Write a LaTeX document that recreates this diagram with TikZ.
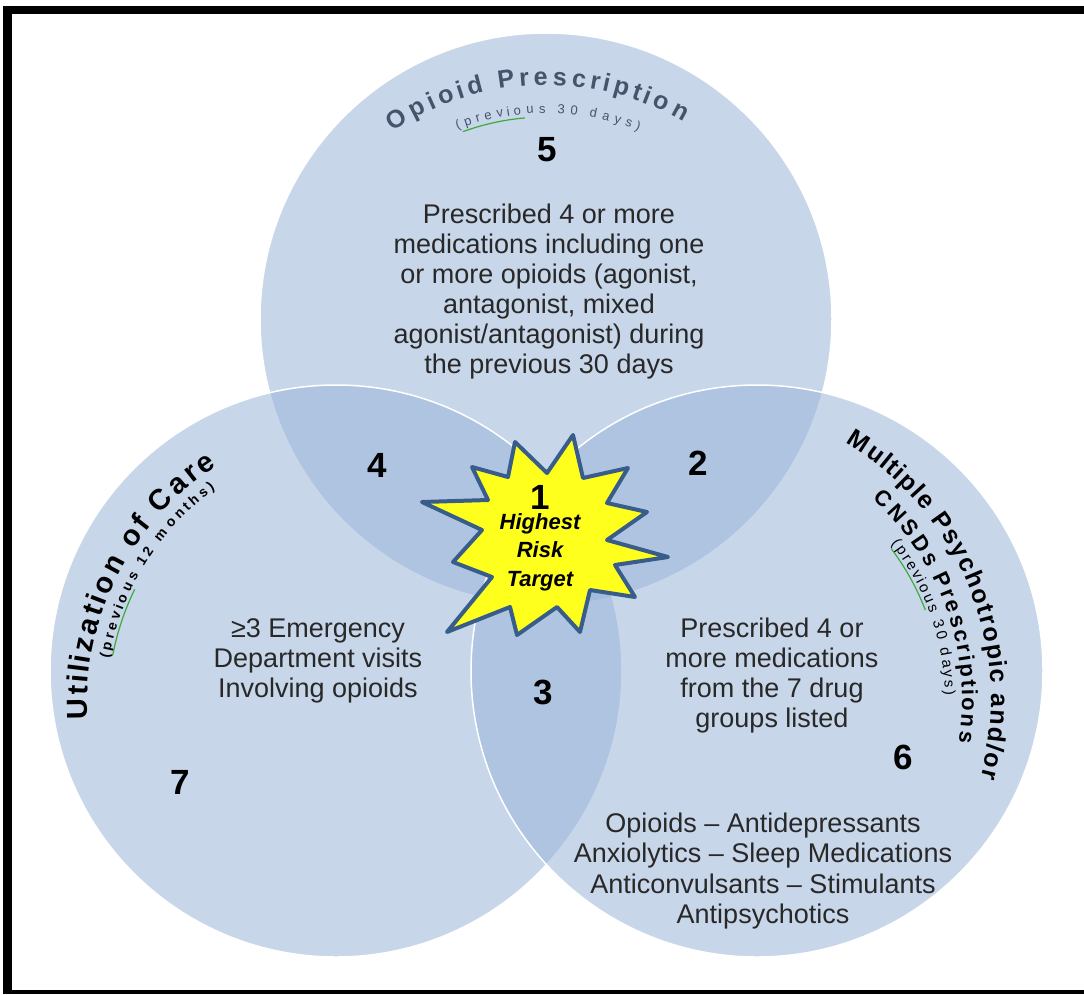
\documentclass[tikz,border=0pt]{standalone}
\usepackage{fontspec}
\setmainfont{Liberation Sans}
\usetikzlibrary{decorations.text}

\definecolor{vennblue}{RGB}{155,182,217}
\definecolor{titlegray}{RGB}{68,84,106}
\definecolor{burstline}{RGB}{56,93,138}
\definecolor{burstfill}{RGB}{255,255,30}
\definecolor{squigglegreen}{RGB}{60,170,60}
\definecolor{bodytext}{RGB}{40,40,40}

\tikzset{
  venn/.style={circle, minimum size=572pt, fill=vennblue, fill opacity=0.55, draw=white, line width=1.5pt},
  region/.style={font=\fontsize{35}{35}\selectfont\bfseries},
  body/.style={align=center, text=bodytext, font=\fontsize{27}{30}\selectfont},
  curved/.style 2 args={decorate, decoration={text effects along path, text={#2},
      text effects/.cd, fit text to path, characters={anchor=base, inner sep=0pt, transform shape, #1}}},
  squiggle/.style={draw=squigglegreen, line width=1.2pt},
  burst/.style={draw=burstline, fill=burstfill, line width=4pt, line join=round}
}

\begin{document}
\begin{tikzpicture}[x=1pt, y=-1pt]
\useasboundingbox (0,0) rectangle (1084,994);
\fill[white] (0,0) rectangle (1084,994);
% frame
\fill[black] (3,6) rectangle (1084,14);
\fill[black] (3,6) rectangle (12,994);
\fill[black] (3,990) rectangle (1084,994);

% the three sets
\node[venn] (opioid) at (546,319) {};
\node[venn] (care) at (336,671) {};
\node[venn] (cnsd) at (757,671) {};

% centres of the curved titles
\coordinate (topc) at (546,360);
\coordinate (leftc) at (372,705);
\coordinate (rightc) at (691,700);

% curved titles
\path[curved={font=\fontsize{25}{25}\selectfont\bfseries, text=titlegray}{Opioid Prescription}]
  (topc) ++(236:275) arc[start angle=236, end angle=300, radius=275];
\path[curved={font=\fontsize{13}{13}\selectfont, text=titlegray}{(previous 30 days)}]
  (topc) ++(249:247) arc[start angle=249, end angle=292, radius=247];
\draw[squiggle] (topc) ++(250:243) arc[start angle=250, end angle=265, radius=243];

\path[curved={font=\fontsize{29}{29}\selectfont\bfseries, text=black}{Utilization of Care}]
  (leftc) ++(177:285) arc[start angle=177, end angle=237, radius=285];
\path[curved={font=\fontsize{14}{14}\selectfont\bfseries, text=black}{(previous 12 months)}]
  (leftc) ++(190:267) arc[start angle=190, end angle=234, radius=267];
\draw[squiggle] (leftc) ++(191:264) arc[start angle=191, end angle=206, radius=264];

\path[curved={font=\fontsize{25}{25}\selectfont\bfseries, text=black}{Multiple Psychotropic and/or}]
  (rightc) ++(301:300) arc[start angle=301, end angle=375, radius=300];
\path[curved={font=\fontsize{22}{22}\selectfont\bfseries, text=black}{CNSDs Prescriptions}]
  (rightc) ++(312:271) arc[start angle=312, end angle=369, radius=271];
\path[curved={font=\fontsize{15}{15}\selectfont, text=black}{(previous 30 days)}]
  (rightc) ++(322:254) arc[start angle=322, end angle=359, radius=254];
\draw[squiggle] (rightc) ++(323:251) arc[start angle=323, end angle=339, radius=251];

% region numbers
\node[region] (r5) at (547,150) {5};
\node[region] (r4) at (377,465) {4};
\node[region] (r2) at (698,463) {2};
\node[region] (r3) at (543,692) {3};
\node[region] (r6) at (903,757) {6};
\node[region] (r7) at (180,782) {7};

% texts
\node[body] (opioidtext) at (549,292) {Prescribed 4 or more\\medications including one\\or more opioids (agonist,\\antagonist, mixed\\agonist/antagonist) during\\the previous 30 days};
\node[body] (caretext) at (318,661) {≥3 Emergency\\Department visits\\Involving opioids};
\node[body] (cnsdtext) at (772,676) {Prescribed 4 or\\more medications\\from the 7 drug\\groups listed};
\node[body, font=\fontsize{27}{30.5}\selectfont] (druglist) at (763,871) {Opioids \textendash{} Antidepressants\\Anxiolytics \textendash{} Sleep Medications\\Anticonvulsants \textendash{} Stimulants\\Antipsychotics};

% highest risk burst
\draw[burst] (573,435) -- (583,478) -- (628,468) -- (607,503) -- (647,512) -- (607,540)
  -- (668,557) -- (615,565) -- (635,597) -- (590,590) -- (580,632) -- (557,607)
  -- (517,635) -- (510,607) -- (447,632) -- (492,577) -- (453,562) -- (482,530)
  -- (422,502) -- (488,500) -- (472,467) -- (508,477) -- (515,442) -- (547,473) -- cycle;
\node[region] (r1) at (540,497) {1};
\node[align=center, font=\fontsize{22}{28.5}\selectfont\bfseries\itshape] (risk) at (540,552) {Highest\\Risk\\Target};
\end{tikzpicture}
\end{document}
